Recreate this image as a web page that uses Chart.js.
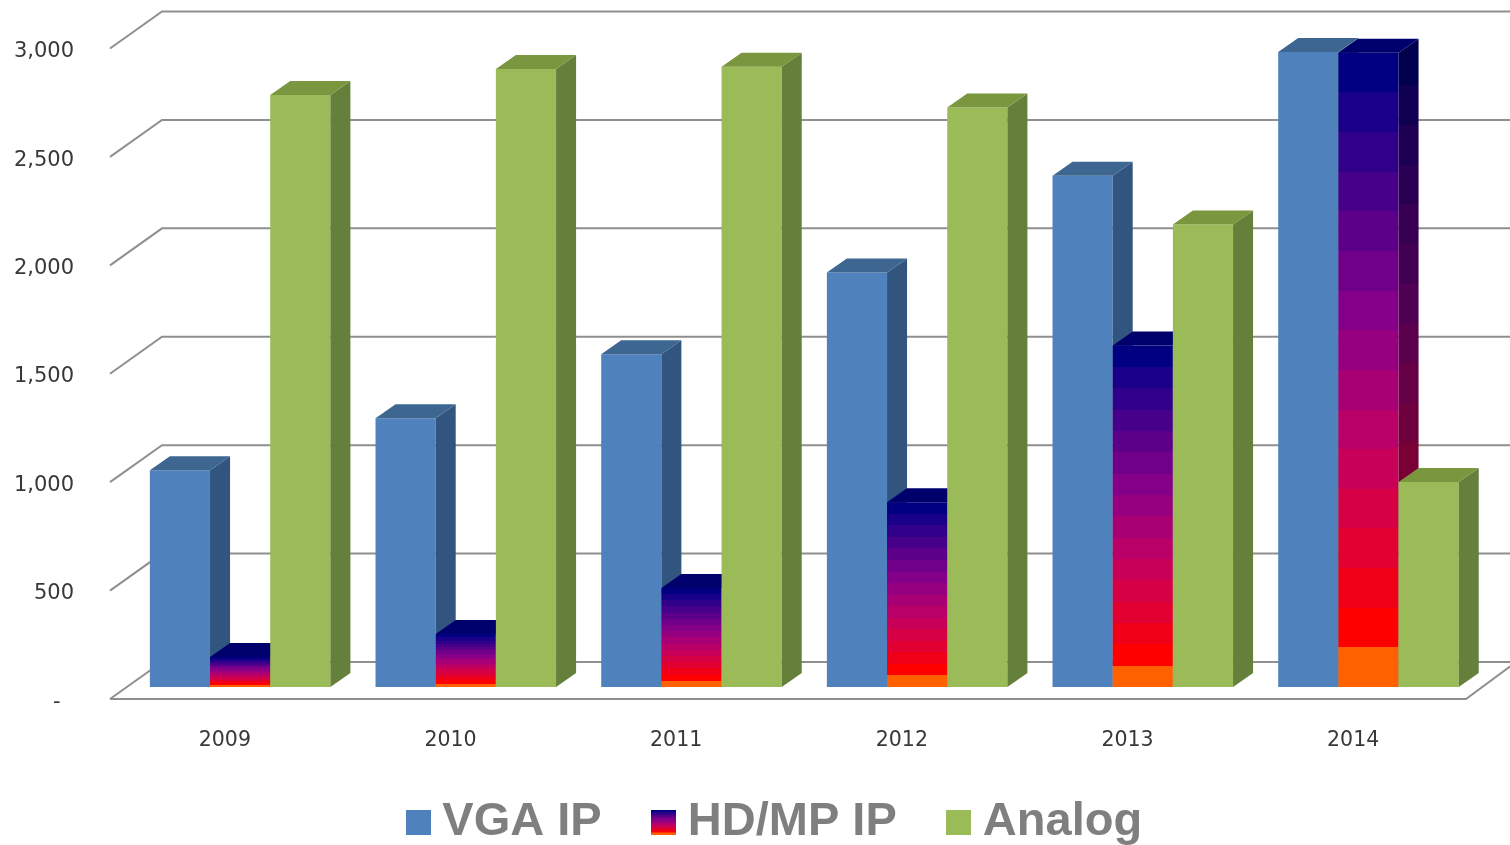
<!DOCTYPE html>
<html>
<head>
<meta charset="utf-8">
<title>IP and analog camera shipments</title>
<script src="https://cdn.jsdelivr.net/npm/chart.js@4/dist/chart.umd.min.js"></script>
<style>
  html, body { margin: 0; padding: 0; background: #fff; overflow: hidden; }
  canvas { display: block; }
</style>
</head>
<body>
<canvas id="chart" width="1510" height="845"></canvas>
<script>
const years = ["2009", "2010", "2011", "2012", "2013", "2014"];
const vgaIp = [1000, 1240, 1535, 1912, 2358, 2929];
const hdMpIp = [138, 245, 457, 852, 1575, 2925];
const analog = [2730, 2850, 2860, 2672, 2133, 945];
const yTicks = [0, 500, 1000, 1500, 2000, 2500, 3000];

// bottom to top bands of the HD/MP IP fill
const bands = [
  "#ff6000", "#ff0000", "#ef0018", "#e20030", "#d60044", "#c80058",
  "#b80068", "#a80074", "#960080", "#840088", "#70008a", "#5c008a",
  "#46008a", "#30008a", "#1a0088", "#000080",
];
const blue = "#4f81bd", blueSide = "#31557f", blueTop = "#3d6691";
const green = "#9bbb59", greenSide = "#65803a", greenTop = "#7a963f";
const gridColor = "#8f8f8f";
const legendGap = "    \u2009"; // legend has one padding for rows and items

// the 3d box: wall depth and how far the bars sit behind the front edge
const wallDx = 50, wallDy = 37;
const barDx = 15.3, barDy = 12;
const depthX = 20, depthY = 14;

function shade(hex, k) {
  const n = parseInt(hex.slice(1), 16);
  const r = Math.round(((n >> 16) & 255) * k);
  const g = Math.round(((n >> 8) & 255) * k);
  const b = Math.round((n & 255) * k);
  return `rgb(${r},${g},${b})`;
}

function bandGradient(c, top, base, k) {
  const g = c.createLinearGradient(0, base, 0, top);
  bands.forEach((col, i) => {
    const color = shade(col, k);
    g.addColorStop(i / bands.length, color);
    g.addColorStop((i + 1) / bands.length, color);
  });
  return g;
}

function swatch(fill) {
  const cv = document.createElement("canvas");
  cv.width = 25;
  cv.height = 25;
  const c = cv.getContext("2d");
  c.fillStyle = fill === "bands" ? bandGradient(c, 0, 25, 1) : fill;
  c.fillRect(0, 0, 25, 25);
  return cv;
}

function drawFaces(ctx, index, bar) {
  const right = bar.x + bar.width / 2;
  const left = bar.x - bar.width / 2;
  let side, top;
  if (index === 0) { side = blueSide; top = blueTop; }
  else if (index === 2) { side = greenSide; top = greenTop; }
  else {
    side = bandGradient(ctx, bar.y - depthY / 2, bar.base - depthY / 2, 0.6);
    top = "#00006c";
  }
  ctx.fillStyle = side;
  ctx.beginPath();
  ctx.moveTo(right, bar.y);
  ctx.lineTo(right + depthX, bar.y - depthY);
  ctx.lineTo(right + depthX, bar.base - depthY);
  ctx.lineTo(right, bar.base);
  ctx.closePath();
  ctx.fill();
  ctx.fillStyle = top;
  ctx.beginPath();
  ctx.moveTo(left, bar.y);
  ctx.lineTo(left + depthX, bar.y - depthY);
  ctx.lineTo(right + depthX, bar.y - depthY);
  ctx.lineTo(right, bar.y);
  ctx.closePath();
  ctx.fill();
}

const box3d = {
  id: "box3d",
  afterLayout(chart) {
    // legend sits off centre and lower than the layout would put it
    const legend = chart.legend;
    legend.left += 42;
    legend.right += 42;
    legend.top += 10.5;
    legend.bottom += 10.5;
  },
  beforeDatasetsDraw(chart) {
    const { ctx, chartArea, scales } = chart;
    ctx.save();
    ctx.strokeStyle = gridColor;
    ctx.lineWidth = 2;
    yTicks.forEach((v) => {
      const y = scales.y.getPixelForValue(v);
      ctx.beginPath();
      ctx.moveTo(chartArea.left - 2, y);
      ctx.lineTo(chartArea.left + wallDx, y - wallDy);
      ctx.lineTo(chart.width, y - wallDy);
      ctx.stroke();
    });
    // front edge of the floor
    ctx.beginPath();
    ctx.moveTo(chartArea.left - 2, chartArea.bottom);
    ctx.lineTo(chartArea.right, chartArea.bottom);
    ctx.lineTo(chartArea.right + wallDx, chartArea.bottom - wallDy);
    ctx.stroke();
    ctx.restore();

    // left to right so each bar covers the side of the one before it
    ctx.save();
    ctx.translate(barDx, -barDy);
    chart.data.datasets.forEach((ds, i) => {
      const meta = chart.getDatasetMeta(i);
      meta.controller.draw();
      meta.data.forEach((bar) => drawFaces(ctx, i, bar));
    });
    ctx.restore();
    return false;
  },
};

new Chart(document.getElementById("chart"), {
  type: "bar",
  plugins: [box3d],
  data: {
    labels: years,
    datasets: [
      { label: "VGA IP", data: vgaIp, backgroundColor: blue },
      {
        label: "HD/MP IP",
        data: hdMpIp,
        backgroundColor(ctx) {
          if (ctx.type !== "data" || !ctx.chart.chartArea) return bands[8];
          const y = ctx.chart.scales.y;
          return bandGradient(ctx.chart.ctx, y.getPixelForValue(ctx.parsed.y), y.getPixelForValue(0), 1);
        },
      },
      { label: "Analog", data: analog, backgroundColor: green },
    ],
  },
  options: {
    responsive: false,
    animation: false,
    events: [],
    categoryPercentage: 0.8,
    barPercentage: 1,
    layout: { padding: { left: 10, right: 44, top: 48.5, bottom: 0 } },
    scales: {
      x: {
        grid: { display: false, drawTicks: false },
        border: { display: false },
        afterFit(scale) { scale.height = 89; },
        ticks: {
          autoSkip: false,
          maxRotation: 0,
          padding: 29,
          color: "#383838",
          font: { family: "DejaVu Sans", size: 20.5 },
        },
      },
      y: {
        min: 0,
        max: 3000,
        afterFit(scale) { scale.width = 102; },
        afterBuildTicks(scale) { scale.ticks = yTicks.map((value) => ({ value })); },
        grid: { display: false, drawTicks: false },
        border: { display: false },
        ticks: {
          padding: 38,
          color: "#383838",
          // empty first line pushes the text a few px under its line
          font: { family: "DejaVu Sans", size: 21, lineHeight: 0.3 },
          callback: (v) => ["", v === 0 ? "-  " : v.toLocaleString("en-US")],
        },
      },
    },
    plugins: {
      tooltip: { enabled: false },
      legend: {
        position: "bottom",
        labels: {
          usePointStyle: true,
          pointStyleWidth: 1,
          padding: 0,
          font: { family: "Liberation Sans", size: 47, weight: "bold" },
          generateLabels() {
            const grey = "#7f7f7f";
            return [
              { text: "VGA IP" + legendGap, fontColor: grey, pointStyle: swatch(blue), datasetIndex: 0 },
              { text: "HD/MP IP" + legendGap, fontColor: grey, pointStyle: swatch("bands"), datasetIndex: 1 },
              { text: "Analog", fontColor: grey, pointStyle: swatch(green), datasetIndex: 2 },
            ];
          },
        },
      },
    },
  },
});
</script>
</body>
</html>
